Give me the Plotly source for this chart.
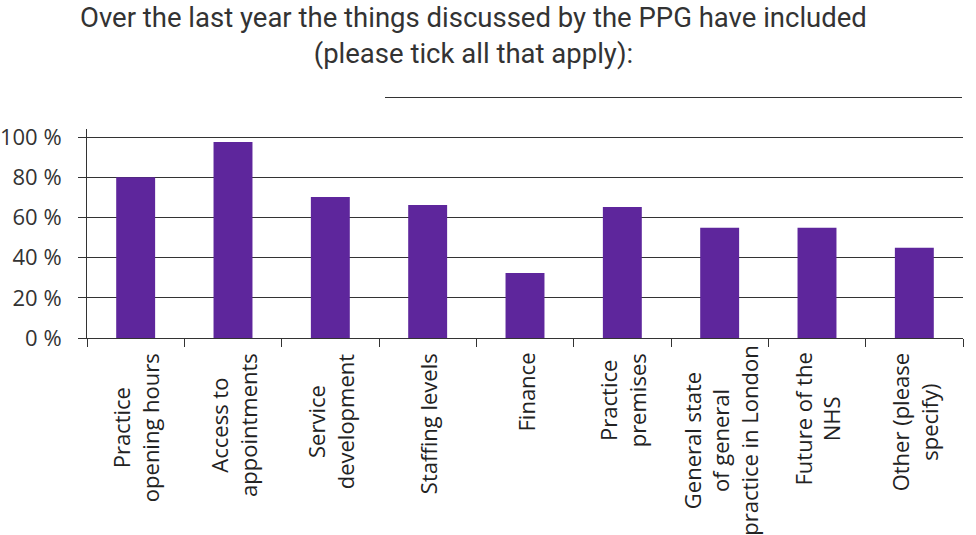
import plotly.graph_objects as go

categories = [
    "Practice<br>opening hours",
    "Access to<br>appointments",
    "Service<br>development",
    "Staffing levels",
    "Finance",
    "Practice<br>premises",
    "General state<br>of general<br>practice in London",
    "Future of the<br>NHS",
    "Other (please<br>specify)",
]
values = [80.0, 97.5, 70.2, 66.2, 32.4, 65.2, 54.8, 54.8, 44.9]
y_ticks = [0, 20, 40, 60, 80, 100]
y_tick_labels = ["0 %", "20 %", "40 %", "60 %", "80 %", "100 %"]
title_text = "Over the last year the things discussed by the PPG have included<br>(please tick all that apply):"

keys = [f"c{i}" for i in range(len(categories))]

W, H = 976, 535
left, right, top, bottom = 87, 963, 129, 338  # plot area in pixels
ml, mr, mt, mb = left, W - right, top, H - bottom
plot_h = H - mt - mb
plot_w = W - ml - mr


def py(pix):
    return (bottom - pix) / plot_h


def px(pix):
    return (pix - left) / plot_w


label_tops = [351, 351, 351, 351, 351, 351, 344, 351, 351]

fig = go.Figure()
fig.add_trace(go.Bar(x=keys, y=values, marker=dict(color="#5E269C", line=dict(width=0)),
                     width=0.4, hoverinfo="skip"))

annotations = []
for k, lab, t in zip(keys, categories, label_tops):
    annotations.append(dict(
        x=k, xref="x", y=py(t), yref="paper",
        text=lab, showarrow=False, textangle=-90, align="center",
        xanchor="center", yanchor="top",
        font=dict(family="Open Sans", size=22, color="#222222"),
    ))

annotations.append(dict(
    x=px(473.5), xref="paper", y=py(-1), yref="paper",
    text=title_text, showarrow=False, align="center",
    xanchor="center", yanchor="top",
    font=dict(family="Roboto, sans-serif", size=27.5, color="#333333"),
))

fig.update_layout(
    width=W, height=H,
    margin=dict(l=ml, r=mr, t=mt, b=mb, autoexpand=False),
    paper_bgcolor="white", plot_bgcolor="white",
    showlegend=False,
    annotations=annotations,
    xaxis=dict(
        type="category", showticklabels=False, tickson="boundaries",
        ticks="outside", ticklen=8, tickcolor="#333333", tickwidth=1,
        showline=True, linecolor="#333333", linewidth=1, showgrid=False,
        range=[-0.5, len(keys) - 0.5], automargin=False,
    ),
    yaxis=dict(
        range=[0, 104], tickmode="array", tickvals=y_ticks, ticktext=y_tick_labels,
        ticks="outside", ticklen=8, tickcolor="#333333", tickwidth=1,
        showline=True, linecolor="#333333", linewidth=1,
        showgrid=True, gridcolor="#333333", gridwidth=1, zeroline=False,
        tickfont=dict(family="Open Sans", size=22, color="#333333"),
        ticklabelstandoff=12,
        automargin=False,
    ),
    shapes=[dict(type="line", xref="paper", yref="paper",
                 x0=px(385), x1=px(962), y0=py(97.5), y1=py(97.5),
                 line=dict(color="#333333", width=1))],
)

fig.write_html("out.html", config={"displayModeBar": False},
               post_script="document.body.style.margin='0';")
